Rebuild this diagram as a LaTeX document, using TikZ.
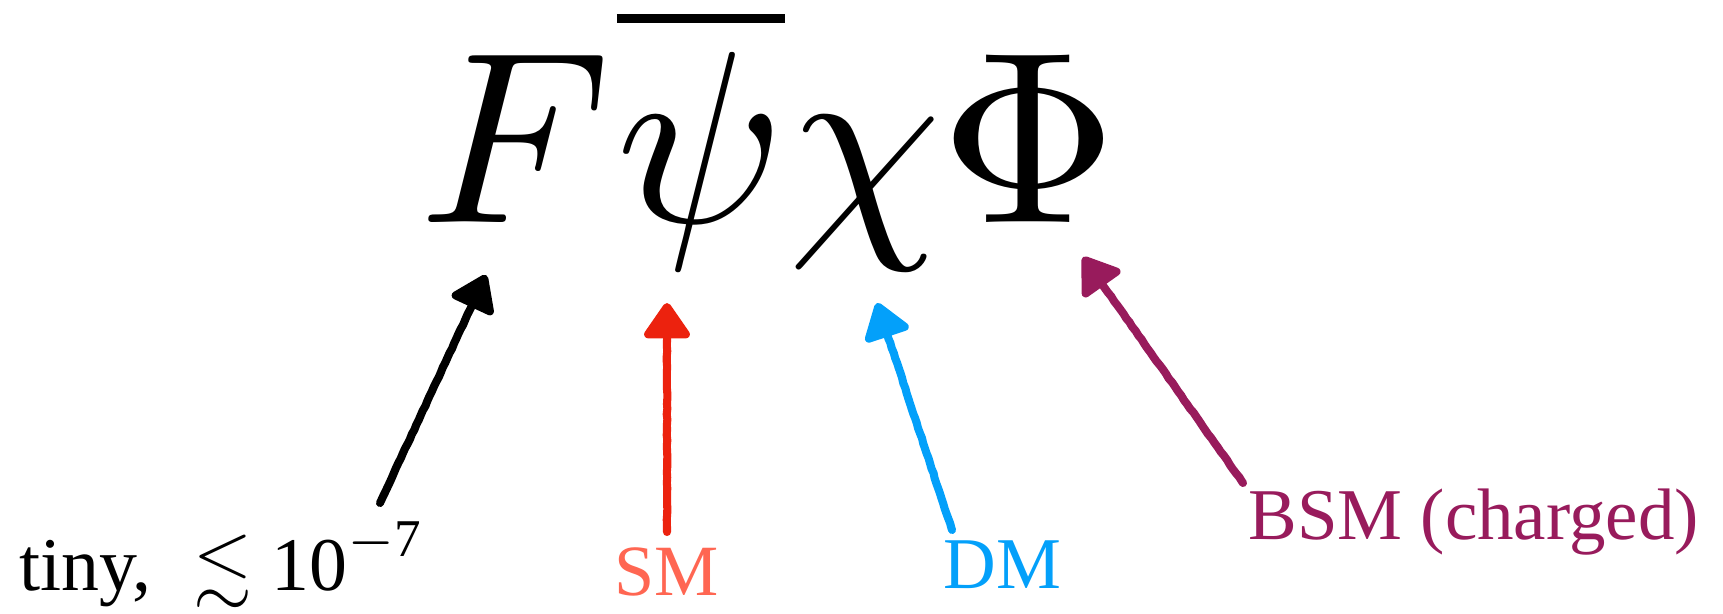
\documentclass[tikz,border=0pt]{standalone}
\usepackage{amsmath,amssymb}
\usepackage[no-math]{fontspec}
\setmainfont{Liberation Serif}
\usetikzlibrary{arrows.meta,decorations.pathmorphing}

\definecolor{smred}{RGB}{236,34,14}
\definecolor{smtext}{RGB}{255,102,82}
\definecolor{dmblue}{RGB}{3,160,250}
\definecolor{bsmpurple}{RGB}{152,27,92}

\begin{document}
\begin{tikzpicture}[
    sym/.style={anchor=base west,inner sep=0pt,scale=13.95},
    lbl/.style={anchor=base west,inner sep=0pt,scale=4.15},
    crayon/.style={line width=4.6pt,line cap=round,
      -{Triangle[length=22pt,width=29pt,round]},
      decorate,decoration={random steps,segment length=3pt,amplitude=0.2pt,
        pre=lineto,pre length=1pt,post=lineto,post length=14pt}}]
   \pgfmathsetseed{11}
   \useasboundingbox (0,0) rectangle (34.46,12.26);
   % the coupling, one symbol per node
   \node[sym] (F)   at (8.30,7.80)  {$F$};
   \node[sym] (psi) at (12.24,7.80) {$\overline{\psi}$};
   \node[sym] (chi) at (15.68,7.80) {$\chi$};
   \node[sym] (Phi) at (18.72,7.80) {$\Phi$};
   % labels
   \node[lbl,scale=1.04] (tiny) at (0.36,0.46)
        {tiny,\hspace{0.55em}$\lesssim$ 10\raisebox{0.08em}{\textsuperscript{$-$7}}};
   \node[lbl,text=smtext,scale=0.99] (sm) at (12.26,0.36) {SM};
   \node[lbl,text=dmblue] (dm) at (18.84,0.50) {DM};
   \node[lbl,text=bsmpurple] (bsm) at (24.94,1.48) {BSM (charged)};
   % arrow ends
   \coordinate (tinyA) at (7.60,2.20);  \coordinate (FA)   at (9.72,6.76);
   \coordinate (smA)   at (13.34,1.62); \coordinate (psiA) at (13.34,6.20);
   \coordinate (dmA)   at (19.04,1.66); \coordinate (chiA) at (17.54,6.20);
   \coordinate (bsmA)  at (24.86,2.60); \coordinate (PhiA) at (21.66,7.12);
   \draw[crayon,black]     (tinyA) -- (FA);
   \draw[crayon,smred]     (smA)   -- (psiA);
   \draw[crayon,dmblue]    (dmA)   -- (chiA);
   \draw[crayon,bsmpurple] (bsmA)  -- (PhiA);
\end{tikzpicture}
\end{document}
